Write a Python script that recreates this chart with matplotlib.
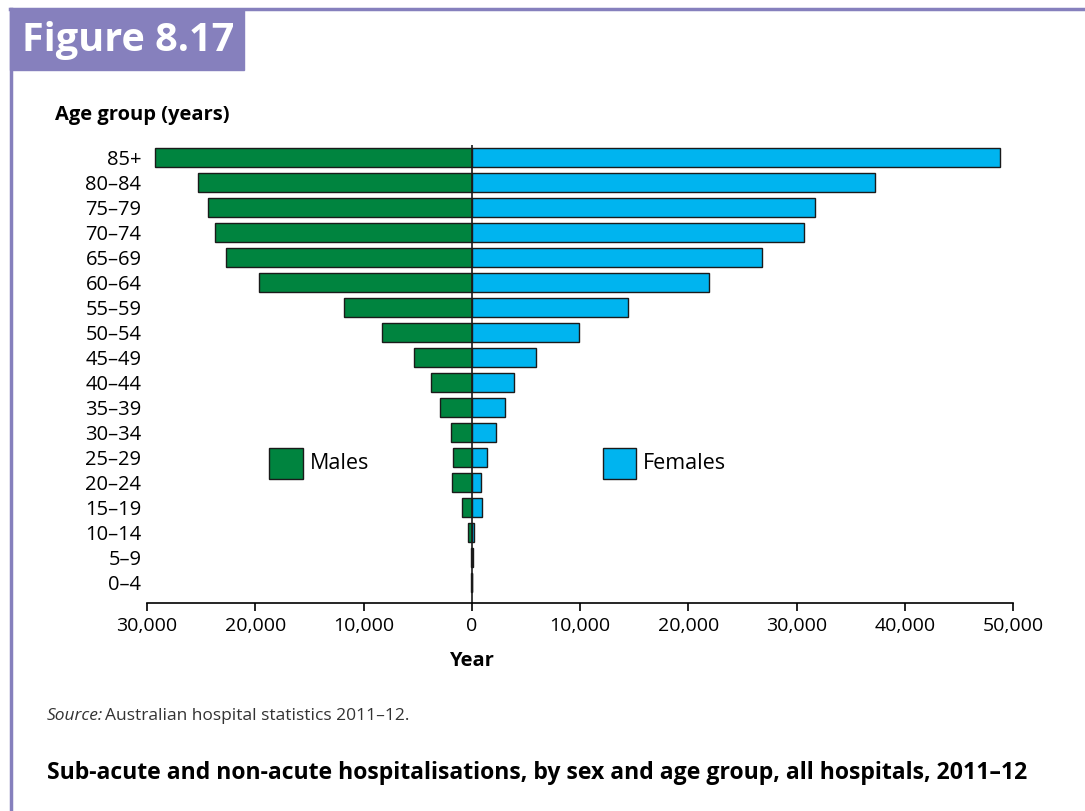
import numpy as np
import matplotlib.pyplot as plt
from matplotlib.patches import Rectangle
from matplotlib.lines import Line2D

plt.rcParams['font.family'] = ['Open Sans', 'DejaVu Sans']

ageGroups = ['0–4', '5–9', '10–14', '15–19', '20–24', '25–29', '30–34', '35–39', '40–44',
             '45–49', '50–54', '55–59', '60–64', '65–69', '70–74', '75–79', '80–84', '85+']
males = [80, 100, 370, 920, 1850, 1750, 1940, 2960, 3790, 5360, 8310, 11820, 19680,
         22730, 23740, 24390, 25310, 29290]
females = [50, 90, 190, 920, 830, 1390, 2220, 3050, 3880, 5910, 9890, 14410, 21890,
           26790, 30670, 31690, 37230, 48780]
xTicks = [-30000, -20000, -10000, 0, 10000, 20000, 30000, 40000, 50000]

maleColor = '#00843F'
femaleColor = '#00B4EF'
frameColor = '#8680BD'

fig = plt.figure(figsize=(10.85, 8.11), dpi=100)

# page frame and title box
fig.add_artist(Line2D([10 / 1085, 1], [1 - 9 / 811, 1 - 9 / 811], color=frameColor, lw=2.5))
fig.add_artist(Line2D([11 / 1085, 11 / 1085], [0, 1 - 9 / 811], color=frameColor, lw=2.5))
fig.add_artist(Rectangle((10 / 1085, 1 - 70 / 811), 234 / 1085, 61 / 811,
                         transform=fig.transFigure, color=frameColor))
fig.text(22 / 1085, 1 - 40 / 811, 'Figure 8.17', color='white', fontsize=28.5,
         fontweight='bold', va='center', ha='left')

ax = fig.add_axes([147 / 1085, 1 - 603 / 811, 866 / 1085, 458.5 / 811])
y = np.arange(len(ageGroups))
ax.barh(y, [-m for m in males], height=0.76, color=maleColor, edgecolor='#1a1a1a', lw=1)
ax.barh(y, females, height=0.76, color=femaleColor, edgecolor='#1a1a1a', lw=1)
ax.axvline(0, color='#1a1a1a', lw=1.2)

ax.set_xlim(-30000, 50000)
ax.set_ylim(-0.8, 17.5)
ax.set_xticks(xTicks)
ax.set_xticklabels(['{:,}'.format(abs(v)) for v in xTicks], fontsize=14)
ax.set_yticks(y)
ax.set_yticklabels(ageGroups, fontsize=14.5)
ax.tick_params(axis='y', length=0, pad=4)
ax.tick_params(axis='x', length=6, width=1.2, direction='out', pad=4)
for side in ['top', 'right', 'left']:
    ax.spines[side].set_visible(False)
ax.spines['bottom'].set_linewidth(1.2)
ax.set_xlabel('Year', fontsize=14.5, fontweight='bold', labelpad=4)
ax.xaxis.set_label_coords(0.375, -0.105)

# legend boxes drawn in data coords
ax.add_patch(Rectangle((-18700, 4.14), 3100, 1.24, facecolor=maleColor, edgecolor='#1a1a1a', lw=1))
ax.text(-15000, 4.76, 'Males', fontsize=15.5, va='center', ha='left')
ax.add_patch(Rectangle((12100, 4.14), 3100, 1.24, facecolor=femaleColor, edgecolor='#1a1a1a', lw=1))
ax.text(15800, 4.76, 'Females', fontsize=15.5, va='center', ha='left')

fig.text(55 / 1085, 1 - 115 / 811, 'Age group (years)', fontsize=14.5, fontweight='bold',
         va='center', ha='left')

fig.text(47 / 1085, 1 - 716 / 811, 'Source:', fontsize=12.5, style='italic',
         va='center', ha='left', color='#333333')
fig.text(105 / 1085, 1 - 716 / 811, 'Australian hospital statistics 2011–12.', fontsize=12.5,
         va='center', ha='left', color='#333333')
fig.text(47 / 1085, 1 - 773 / 811,
         'Sub-acute and non-acute hospitalisations, by sex and age group, all hospitals, 2011–12',
         fontsize=16.6, fontweight='bold', va='center', ha='left')

fig.savefig('out.png', dpi=100)
